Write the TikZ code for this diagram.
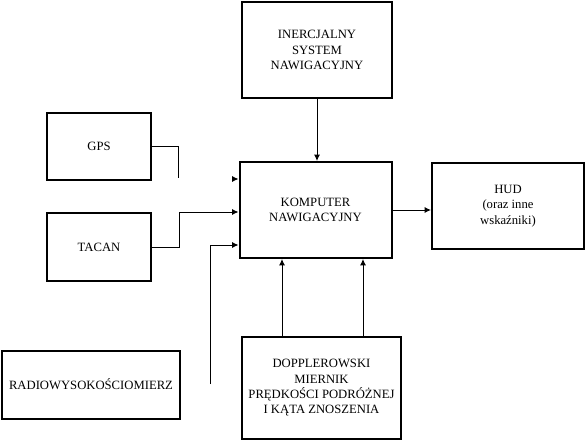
\documentclass[tikz,border=0pt]{standalone}
\usepackage{fontspec}
\setmainfont{Liberation Serif}
\usepackage{tikz}
\usetikzlibrary{positioning,arrows.meta,calc}
\tikzset{
  blk/.style={draw=black, line width=1.5pt, align=center, inner sep=2pt,
    font=\fontsize{9.5}{11.5}\selectfont},
  wire/.style={line width=0.7pt},
  edge/.style={-{Latex[length=1.7mm,width=1.6mm]}, line width=0.7pt},
}
\begin{document}
\begin{tikzpicture}[x=0.75pt,y=-0.75pt]
  \useasboundingbox (0,0) rectangle (586,442);
  \node[blk, minimum width=112.5pt, minimum height=72pt] (ins)  at (317,50)  {INERCJALNY\\SYSTEM\\NAWIGACYJNY};
  \node[blk, minimum width=114pt, minimum height=72pt]  (komp) at (315.5,210) {KOMPUTER\\NAWIGACYJNY};
  \node[blk, minimum width=114pt, minimum height=64.5pt] (hud) at (508,206) {HUD\\(oraz inne\\wskaźniki)};
  \node[blk, minimum width=78pt, minimum height=50pt]   (gps)  at (99,146.5) {GPS};
  \node[blk, minimum width=78pt, minimum height=51pt]   (tacan) at (99,247) {TACAN};
  \node[blk, minimum width=133.5pt, minimum height=51pt] (radio) at (91,384.5) {RADIOWYSOKOŚCIOMIERZ};
  \node[blk, minimum width=119pt, minimum height=76pt]   (doppler) at (321.5,388) {DOPPLEROWSKI\\MIERNIK\\PRĘDKOŚCI PODRÓŻNEJ\\I KĄTA ZNOSZENIA};
  \coordinate (gpsend) at (178,178);
  \coordinate (radioend) at (210,384);
  % connectors
  \draw[edge] (ins) -- (komp.north -| ins);
  \draw[wire] (gps.east) -| (gpsend);
  \draw[edge] ($(komp.west)+(-6,-31)$) -- ($(komp.west)+(0,-31)$);
  \draw[edge] (tacan.east) -- ++(27,0) |- ($(komp.west)+(0,2)$);
  \draw[edge] (radioend) |- ($(komp.west)+(0,35)$);
  \draw[edge] (komp.east) -- (hud.west |- komp.east);
  \draw[edge] (doppler.north -| 282,0) -- (komp.south -| 282,0);
  \draw[edge] (doppler.north -| 363,0) -- (komp.south -| 363,0);
\end{tikzpicture}
\end{document}
